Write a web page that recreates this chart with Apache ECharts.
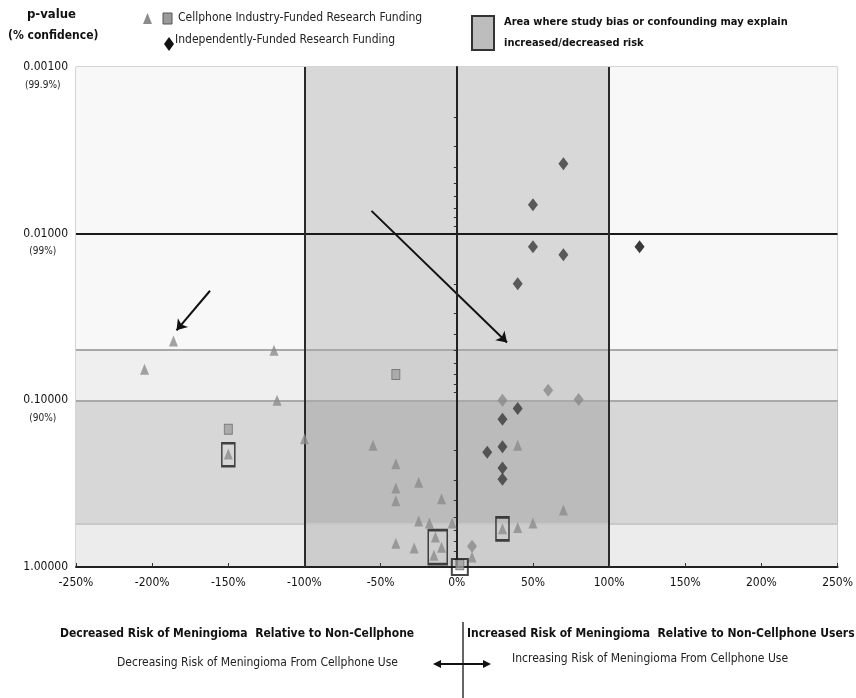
<!DOCTYPE html>
<html><head><meta charset="utf-8">
<script src="https://cdn.jsdelivr.net/npm/echarts@6/dist/echarts.min.js"></script>
<style>html,body{margin:0;padding:0;background:#fff}#c{width:856px;height:698px}</style>
</head><body><div id="c"></div>
<script>
// ---- data ----
const xTickMin = -250, xTickMax = 250, xTickStep = 50;
const yTickValues = [0.001, 0.01, 0.1, 1];
const yTickText = ['0.00100', '0.01000', '0.10000', '1.00000'];
const yConfText = ['(99.9%)', '(99%)', '(90%)', ''];
const bandEdges = [0.001, 0.05, 0.1, 0.55, 1];
const biasRange = [-100, 100];
const significanceP = 0.01;
// [relative risk change %, p-value]
const industryTriangles = [
  [-186, 0.044], [-120, 0.050], [-205, 0.065], [-118, 0.10], [-100, 0.17],
  [-150, 0.21], [-55, 0.186], [-40, 0.24], [-40, 0.336], [-40, 0.40],
  [-25, 0.31], [-10, 0.39], [-25, 0.53], [-18, 0.545], [-3, 0.545],
  [-40, 0.72], [-28, 0.77], [-14, 0.66], [-10, 0.76], [-15, 0.85],
  [10, 0.87], [40, 0.186], [40, 0.58], [50, 0.545], [70, 0.455], [30, 0.59]
];
const industrySquares = [[-150, 0.149], [-40, 0.07], [2, 0.97]];
const independentDiamonds = [
  [70, 0.0038], [50, 0.0067], [50, 0.012], [70, 0.0134], [40, 0.02],
  [40, 0.112], [30, 0.13], [20, 0.205], [30, 0.19], [30, 0.255], [30, 0.297]
];
const independentOutlier = [[120, 0.012]];
const independentFaint = [[60, 0.087], [80, 0.099], [30, 0.1], [10, 0.75]];
const boxedStudies = [[-150, 0.212], [-12.5, 0.76], [30, 0.59], [2, 1.0]];
const boxedSizes = [[13, 23], [19, 34], [13, 23], [16, 16]];

const NARROW = "'Liberation Sans Narrow','DejaVu Sans Condensed','Liberation Sans',sans-serif";

const chart = echarts.init(document.getElementById('c'));

const bandColors = ['#f8f8f8', '#efefef', '#d7d7d7', '#ececec'];
const bandAreas = [];
for (let i = 0; i < bandEdges.length - 1; i++) {
  bandAreas.push([{ coord: [xTickMin, bandEdges[i]], itemStyle: { color: bandColors[i] } },
                  { coord: [xTickMax, bandEdges[i + 1]] }]);
}

const option = {
  animation: false,
  backgroundColor: '#fff',
  grid: { left: 76, right: 14, top: 67, bottom: 131, show: true, borderColor: '#a8a8a8', borderWidth: 1, backgroundColor: 'transparent' },
  xAxis: {
    type: 'value', min: xTickMin, max: xTickMax, interval: xTickStep, z: 10,
    axisLine: { onZero: false, lineStyle: { color: '#222', width: 2 } },
    axisTick: { inside: true, length: 4, lineStyle: { color: '#333' } },
    splitLine: { show: false },
    axisLabel: { formatter: v => v + '%', color: '#111', fontFamily: NARROW, fontSize: 12, margin: 10 }
  },
  yAxis: [{
    type: 'log', logBase: 10, min: yTickValues[0], max: yTickValues[yTickValues.length - 1], inverse: true,
    position: 'left',
    axisLine: { show: false, onZero: false }, axisTick: { show: false }, splitLine: { show: false },
    axisLabel: {
      margin: 8,
      formatter: v => {
        const i = yTickValues.findIndex(t => Math.abs(Math.log10(t) - Math.log10(v)) < 1e-6);
        if (i < 0) return '';
        return '{c| }\n{a|' + yTickText[i] + '}\n{b|' + (yConfText[i] || ' ') + '}';
      },
      rich: {
        a: { fontFamily: NARROW, fontSize: 12, color: '#111', lineHeight: 16 },
        b: { fontFamily: NARROW, fontSize: 10, color: '#222', lineHeight: 20, align: 'center', padding: [0, 6, 0, 0] },
        c: { fontSize: 10, lineHeight: 20 }
      }
    }
  }, {
    type: 'log', logBase: 10, min: yTickValues[0], max: yTickValues[yTickValues.length - 1], inverse: true,
    position: 'left', z: 10,
    axisLine: { show: true, onZero: true, onZeroAxisIndex: 0, lineStyle: { color: '#222', width: 2 } },
    axisTick: { show: false },
    minorTick: { show: true, splitNumber: 9, length: 3, lineStyle: { color: '#333' } },
    axisLabel: { show: false }, splitLine: { show: false }
  }],
  graphic: [
    // y-axis title
    { type: 'text', left: 27, top: 8, style: { text: 'p-value', font: "bold 13px " + NARROW, fill: '#111' } },
    { type: 'text', left: 8, top: 30, style: { text: '(% confidence)', font: "bold 12px " + NARROW, fill: '#111' } },
    // legend
    { type: 'polygon', shape: { points: [[143, 24], [147.5, 13], [152, 24]] }, style: { fill: '#8c8c8c' } },
    { type: 'rect', shape: { x: 163, y: 13, width: 9, height: 11 }, style: { fill: '#9a9a9a', stroke: '#555', lineWidth: 1 } },
    { type: 'text', left: 178, top: 12, style: { text: 'Cellphone Industry-Funded Research Funding', font: "12px " + NARROW, fill: '#222' } },
    { type: 'polygon', shape: { points: [[169, 37], [174, 44], [169, 51], [164, 44]] }, style: { fill: '#111' } },
    { type: 'text', left: 175, top: 34, style: { text: 'Independently-Funded Research Funding', font: "12px " + NARROW, fill: '#222' } },
    { type: 'rect', shape: { x: 472, y: 16, width: 22, height: 34 }, style: { fill: '#bdbdbd', stroke: '#333', lineWidth: 2 } },
    { type: 'text', left: 504, top: 17, style: { text: 'Area where study bias or confounding may explain', font: "bold 11px " + NARROW, fill: '#111' } },
    { type: 'text', left: 504, top: 38, style: { text: 'increased/decreased risk', font: "bold 11px " + NARROW, fill: '#111' } },
    // annotations
    { type: 'text', left: 212, top: 190, style: { text: 'Line of "Statistical Significance"', font: "12px " + NARROW, fill: '#6a6a6a' } },
    { type: 'text', left: 212, top: 265, style: { text: '186% "protection" from menigioma by use of a', font: "bold 11px " + NARROW, fill: '#222' } },
    { type: 'text', left: 212, top: 285, style: { text: 'cellphone, or the study is flawed!', font: "bold 11px " + NARROW, fill: '#222' } },
    // band labels
    { type: 'text', left: 81, top: 377, style: { text: 'Area of probably of statistical meaning', font: "13px " + NARROW, fill: '#1a1a1a' } },
    { type: 'text', left: 90, top: 484, style: { text: 'Area of possible statistical meaning', font: "13px " + NARROW, fill: '#1a1a1a' } },
    { type: 'text', left: 92, top: 535, style: { text: 'Area of no statistical meaning', font: "13px " + NARROW, fill: '#1a1a1a' } },
    // bottom explanation
    { type: 'text', left: 60, top: 628, style: { text: 'Decreased Risk of Meningioma  Relative to Non-Cellphone', font: "bold 12px " + NARROW, fill: '#111' } },
    { type: 'text', left: 467, top: 628, style: { text: 'Increased Risk of Meningioma  Relative to Non-Cellphone Users', font: "bold 12px " + NARROW, fill: '#111' } },
    { type: 'text', left: 117, top: 657, style: { text: 'Decreasing Risk of Meningioma From Cellphone Use', font: "12px " + NARROW, fill: '#222' } },
    { type: 'text', left: 512, top: 653, style: { text: 'Increasing Risk of Meningioma From Cellphone Use', font: "12px " + NARROW, fill: '#222' } },
    { type: 'line', shape: { x1: 463, y1: 622, x2: 463, y2: 698 }, style: { stroke: '#333', lineWidth: 1.5 } },
    { type: 'line', shape: { x1: 437, y1: 664, x2: 487, y2: 664 }, style: { stroke: '#111', lineWidth: 2 } },
    { type: 'polygon', shape: { points: [[433, 664], [441, 660], [441, 668]] }, style: { fill: '#111' } },
    { type: 'polygon', shape: { points: [[491, 664], [483, 660], [483, 668]] }, style: { fill: '#111' } }
  ],
  series: [
    {
      type: 'line', data: [], z: 1, silent: true,
      markArea: { silent: true, data: bandAreas }
    },
    {
      type: 'line', data: [], z: 2, silent: true,
      markArea: { silent: true, itemStyle: { color: 'rgba(0,0,0,0.13)' },
        data: [[{ coord: [biasRange[0], bandEdges[0]] }, { coord: [biasRange[1], bandEdges[bandEdges.length - 1]] }]] },
      markLine: {
        silent: true, symbol: 'none', label: { show: false },
        data: [
          { yAxis: bandEdges[1], lineStyle: { color: '#a9a9a9', width: 2, type: 'solid' } },
          { yAxis: bandEdges[2], lineStyle: { color: '#a9a9a9', width: 2, type: 'solid' } },
          { yAxis: bandEdges[3], lineStyle: { color: '#c8c8c8', width: 2, type: 'solid' } },
          { yAxis: significanceP, lineStyle: { color: '#1a1a1a', width: 2, type: 'solid' } },
          { xAxis: biasRange[0], lineStyle: { color: '#2a2a2a', width: 2, type: 'solid' } },
          { xAxis: biasRange[1], lineStyle: { color: '#2a2a2a', width: 2, type: 'solid' } }
        ]
      }
    },
    {
      type: 'line', data: [], z: 5, silent: true,
      markLine: {
        silent: true, symbol: ['none', 'arrow'], symbolSize: 10, label: { show: false },
        lineStyle: { color: '#111', width: 2, type: 'solid' },
        data: [
          [{ coord: [-56, 0.0073] }, { coord: [33, 0.045] }],
          [{ coord: [-162, 0.022] }, { coord: [-184, 0.038] }]
        ]
      }
    },
    { name: 'Cellphone Industry-Funded Research Funding', type: 'scatter', data: industryTriangles, z: 12,
      symbol: 'triangle', symbolSize: [9, 11], itemStyle: { color: '#8c8c8c' } },
    { type: 'scatter', data: industrySquares, z: 12,
      symbol: 'rect', symbolSize: [8, 10], itemStyle: { color: '#a0a0a0', borderColor: '#6a6a6a', borderWidth: 1 } },
    { name: 'Independently-Funded Research Funding', type: 'scatter', data: independentDiamonds, z: 12,
      symbol: 'diamond', symbolSize: [10, 13], itemStyle: { color: '#3a3a3a' } },
    { type: 'scatter', data: independentOutlier, z: 12,
      symbol: 'diamond', symbolSize: [10, 13], itemStyle: { color: '#0a0a0a' } },
    { type: 'scatter', data: independentFaint, z: 12,
      symbol: 'diamond', symbolSize: [10, 13], itemStyle: { color: '#8a8a8a' } },
    { type: 'scatter', data: boxedStudies.map((d, i) => ({ value: d, symbolSize: boxedSizes[i] })), z: 13,
      symbol: 'rect', itemStyle: { color: 'rgba(0,0,0,0)', borderColor: '#1a1a1a', borderWidth: 2 } }
  ]
};
chart.setOption(option);
</script></body></html>
